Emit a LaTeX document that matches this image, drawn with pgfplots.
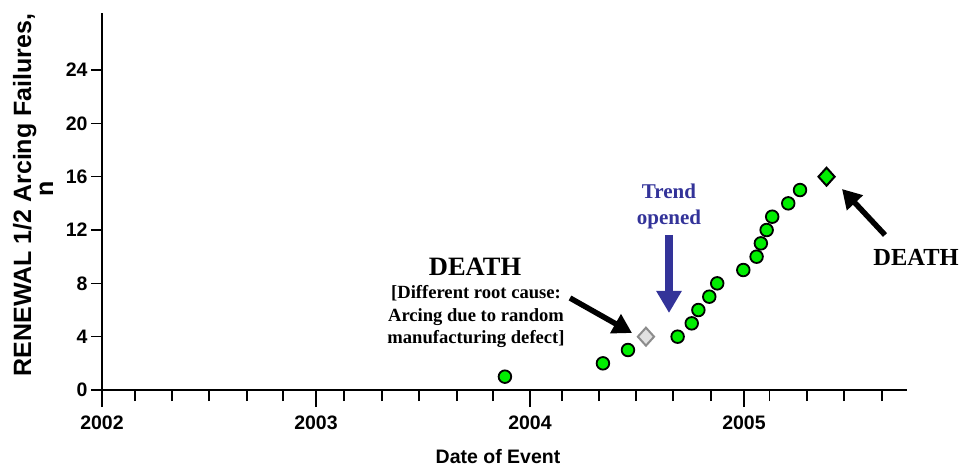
\documentclass[border=0pt]{standalone}
\usepackage{fontspec}
\setmainfont{Liberation Serif}
\setsansfont{Liberation Sans}
\usepackage{pgfplots}
\pgfplotsset{compat=1.18}
\usetikzlibrary{arrows.meta}
\definecolor{lime}{RGB}{0,238,0}
\definecolor{trendblue}{RGB}{51,51,153}
\definecolor{dgray}{RGB}{140,140,140}
\definecolor{lgray}{RGB}{225,225,225}
\begin{document}
\begin{tikzpicture}
\begin{axis}[
  at={(102pt,76pt)}, anchor=south west,
  scale only axis, width=805pt, height=377pt,
  xmin=2002, xmax=2005.762, ymin=0, ymax=28.28,
  axis lines=left,
  axis line style={line width=2.5pt, -},
  tick align=outside,
  tick style={black, line width=1.3pt},
  major tick length=17pt, minor tick length=11pt,
  xtick={2002,2003,2004,2005},
  xticklabels={2002,2003,2004,2005},
  minor xtick={2002.154,2002.327,2002.5,2002.678,2002.846,2003.131,2003.308,2003.481,2003.659,2003.827,2004.150,2004.322,2004.495,2004.668,2004.846,2005.121,2005.294,2005.467,2005.645},
  ytick=\empty,
  extra y ticks={0,4,8,12,16,20,24},
  extra y tick style={major tick length=11pt},
  /pgf/number format/assume math mode=true,
  ticklabel style={font=\sffamily\bfseries\fontsize{19.5}{19.5}\selectfont},
  xticklabel style={yshift=-5pt},
  clip=false,
]
% main series (green circles)
\addplot[only marks, mark=*, mark size=6.3pt,
  mark options={fill=lime, draw=black, line width=1.8pt}]
  coordinates {
  (2003.883,1) (2004.341,2) (2004.458,3) (2004.690,4) (2004.756,5)
  (2004.787,6) (2004.838,7) (2004.875,8) (2004.997,9) (2005.059,10)
  (2005.079,11) (2005.106,12) (2005.132,13) (2005.207,14) (2005.262,15)
  };
% death, different root cause (gray diamond)
\addplot[only marks, mark=diamond*, mark size=9pt,
  mark options={fill=lgray, draw=dgray, line width=2pt, xscale=1.2}]
  coordinates {(2004.542,4)};
% death (green diamond)
\addplot[only marks, mark=diamond*, mark size=9pt,
  mark options={fill=lime, draw=black, line width=2pt, xscale=1.2}]
  coordinates {(2005.386,16)};
\end{axis}
% axis titles
\node[rotate=90, anchor=base, font=\sffamily\bfseries\fontsize{25}{25}\selectfont] at (31pt,271pt) {RENEWAL 1/2 Arcing Failures,};
\node[rotate=90, anchor=base, font=\sffamily\bfseries\fontsize{25}{25}\selectfont] at (53pt,277pt) {n};
\node[anchor=base, font=\sffamily\bfseries\fontsize{19.5}{19.5}\selectfont] at (498pt,3pt) {Date of Event};
% annotations
\node[font=\bfseries\fontsize{26.5}{26.5}\selectfont] at (475pt,199pt) {DEATH};
\node[align=center, font=\bfseries\fontsize{18.6}{22.5}\selectfont] at (476pt,149pt) {[Different root cause:\\Arcing due to random\\manufacturing defect]};
\node[align=center, text=trendblue, font=\bfseries\fontsize{21}{26}\selectfont] at (669pt,260pt) {Trend\\opened};
\node[font=\bfseries\fontsize{24.5}{24.5}\selectfont] at (916pt,209pt) {DEATH};
\draw[line width=5.5pt, -{Triangle[length=19pt,width=21pt]}] (570pt,168pt) -- (632pt,133pt);
\draw[trendblue, line width=8pt, -{Triangle[length=22pt,width=24pt]}] (669pt,231pt) -- (669pt,153pt);
\draw[line width=5.5pt, -{Triangle[length=19pt,width=21pt]}] (885pt,231pt) -- (842pt,277pt);
\pgfresetboundingbox
\path[use as bounding box] (0pt,0pt) rectangle (963pt,466pt);
\end{tikzpicture}
\end{document}
